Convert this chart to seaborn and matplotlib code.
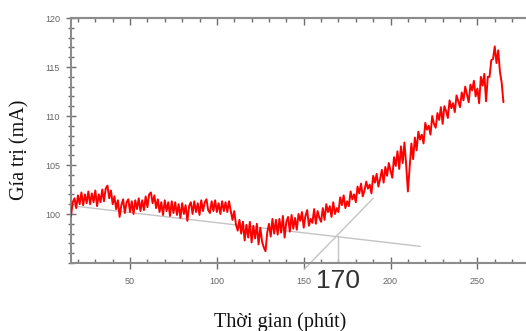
import numpy as np
import pandas as pd
import matplotlib
matplotlib.use("Agg")
import matplotlib.pyplot as plt
from matplotlib.ticker import MultipleLocator, FixedLocator
import seaborn as sns

# ---------------------------------------------------------------------------
# Dữ liệu (thời gian 16..265 phút, bước 1 phút)
# ---------------------------------------------------------------------------
thoi_gian = list(range(16, 266))

gia_tri = [
    99.8, 101.2, 101.6, 100.6, 101.9, 101.0, 102.2, 100.9, 102.0, 101.1,
    102.3, 101.0, 102.1, 101.2, 102.4, 100.8, 102.0, 101.2, 102.5, 101.3,
    102.6, 102.9, 101.6, 102.4, 101.0, 101.8, 100.5, 101.4, 99.7, 100.9,
    101.5, 100.1, 101.2, 101.5, 100.2, 101.3, 100.0, 101.4, 100.5, 101.6,
    100.3, 101.4, 100.4, 101.8, 100.7, 102.0, 102.2, 101.1, 101.9, 100.6,
    101.5, 100.2, 101.2, 99.9, 101.4, 100.3, 101.2, 99.8, 101.3, 100.1,
    101.2, 99.9, 101.0, 99.6, 101.1, 100.0, 100.9, 99.3, 100.8, 101.2,
    100.0, 101.3, 100.2, 101.1, 99.9, 101.4, 100.3, 101.2, 101.5, 100.4,
    100.1, 101.3, 100.3, 101.4, 100.2, 101.1, 100.0, 101.3, 100.3, 101.2,
    100.2, 101.3, 100.3, 99.4, 100.3, 98.9, 98.3, 99.4, 98.0, 99.2,
    97.3, 98.9, 97.6, 99.2, 97.1, 98.8, 97.5, 99.0, 96.9, 98.6,
    97.2, 96.6, 96.2, 98.1, 99.0, 97.7, 99.5, 98.0, 99.4, 97.9,
    99.5, 98.1, 99.8, 97.6, 99.2, 99.7, 98.2, 99.9, 98.5, 99.6,
    98.4, 100.0, 99.3, 100.2, 98.6, 99.8, 100.4, 98.8, 99.5, 99.1,
    100.5, 99.0, 100.3, 99.6, 99.2, 100.6, 99.4, 101.0, 100.2, 100.8,
    99.7, 101.2, 100.0, 100.6, 100.2, 101.7, 100.9, 101.9, 100.6, 101.3,
    100.8, 102.3, 101.5, 102.0, 101.2, 102.8, 102.1, 103.1, 101.8, 102.4,
    103.3, 102.6, 103.0, 102.1, 103.9, 103.2, 104.1, 102.8, 103.6, 104.5,
    103.2, 104.8, 103.9, 105.2, 104.4, 103.7, 105.8, 104.9, 106.4, 104.6,
    106.9, 105.2, 107.3, 105.0, 102.3, 104.8, 107.2, 105.6, 107.8, 106.5,
    108.4, 107.6, 108.1, 107.2, 109.3, 108.6, 109.0, 108.1, 110.0, 109.2,
    108.8, 110.3, 109.6, 110.9, 109.2, 111.0, 110.5, 109.8, 111.6, 110.8,
    111.3, 110.4, 112.1, 111.5, 110.9, 112.4, 111.6, 113.0, 112.2, 111.4,
    113.2, 112.6, 113.6, 112.0, 112.8, 111.3, 114.0, 113.1, 114.3, 111.5,
    114.0, 114.0, 115.7, 115.8, 117.1, 115.4, 116.7, 114.5, 113.4, 111.4,
]

# hai đường tiếp tuyến và điểm giao (170 phút)
tiep_tuyen_1_x = [16, 217]
tiep_tuyen_1_y = [100.85, 96.7]
tiep_tuyen_2_x = [150.5, 190]
tiep_tuyen_2_y = [94.4, 101.6]
diem_giao_x = [170, 170]
diem_giao_y = [97.8, 95]
nhan_giao = "170"

y_nhan = [100, 105, 110, 115, 120]
XLIM = (16, 278)
YLIM = (95, 120)

df = pd.DataFrame({"Thời gian": thoi_gian, "Giá trị": gia_tri})

sns.set_style("white")
plt.rcParams["font.family"] = ["Liberation Sans", "DejaVu Sans"]

fig = plt.figure(figsize=(5.26, 3.31), dpi=100)
ax = fig.add_axes([71 / 526, 68 / 331, 455 / 526, 245 / 331])

# đường tiếp tuyến (xám nhạt)
line_kw = dict(color="#c4c4c4", lw=1.0, clip_on=False, zorder=1)
ax.plot(tiep_tuyen_1_x, tiep_tuyen_1_y, **line_kw)
ax.plot(tiep_tuyen_2_x, tiep_tuyen_2_y, **line_kw)
ax.plot(diem_giao_x, diem_giao_y, **line_kw)

sns.lineplot(data=df, x="Thời gian", y="Giá trị", color="#ff0000",
             lw=1.4, ax=ax, zorder=3)

ax.set_xlim(*XLIM)
ax.set_ylim(*YLIM)

# trục
spine_col = "#8c8c8c"
for side in ["left", "bottom", "top"]:
    ax.spines[side].set_color(spine_col)
    ax.spines[side].set_linewidth(1.5)
ax.spines["right"].set_visible(False)

ax.xaxis.set_major_locator(MultipleLocator(50))
ax.xaxis.set_minor_locator(MultipleLocator(10))
ax.yaxis.set_major_locator(FixedLocator(y_nhan))
ax.yaxis.set_minor_locator(MultipleLocator(1))

ax.tick_params(axis="x", which="major", direction="inout", length=8, width=1,
               color="#6e6e6e", pad=6, labelsize=6.5, labelcolor="#666666")
ax.tick_params(axis="x", which="minor", direction="in", length=3, width=1,
               color="#6e6e6e")
ax.tick_params(axis="y", which="major", direction="inout", length=7, width=1,
               color="#6e6e6e", pad=4.5, labelsize=6.5, labelcolor="#666666")
ax.tick_params(axis="y", which="minor", direction="inout", length=4, width=1,
               color="#6e6e6e")
ax.tick_params(left=True, bottom=True, which="both")

# trục trên chỉ có vạch
top = ax.secondary_xaxis("top")
top.xaxis.set_major_locator(MultipleLocator(50))
top.xaxis.set_minor_locator(MultipleLocator(10))
top.tick_params(which="major", direction="in", length=5, width=1,
                color="#6e6e6e", labeltop=False)
top.tick_params(which="minor", direction="in", length=3, width=1,
                color="#6e6e6e")
top.spines["top"].set_color(spine_col)
top.spines["top"].set_linewidth(1.5)

serif = ["Liberation Serif", "DejaVu Serif"]
ax.set_xlabel("Thời gian (phút)", family=serif, fontsize=14.5, color="#111111")
ax.xaxis.set_label_coords((280 - 71) / 455, -(322 - 263) / 245)
ax.xaxis.label.set_va("center")
ax.set_ylabel("Gía trị (mA)", family=serif, fontsize=14.5, color="#111111")
ax.yaxis.set_label_coords((20 - 71) / 455, (263 - 150) / 245)
ax.yaxis.label.set_va("center")

ax.text(170, 93.15, nhan_giao, ha="center", va="center", fontsize=19,
        color="#333333")

fig.savefig("out.png", dpi=100)
plt.close(fig)
